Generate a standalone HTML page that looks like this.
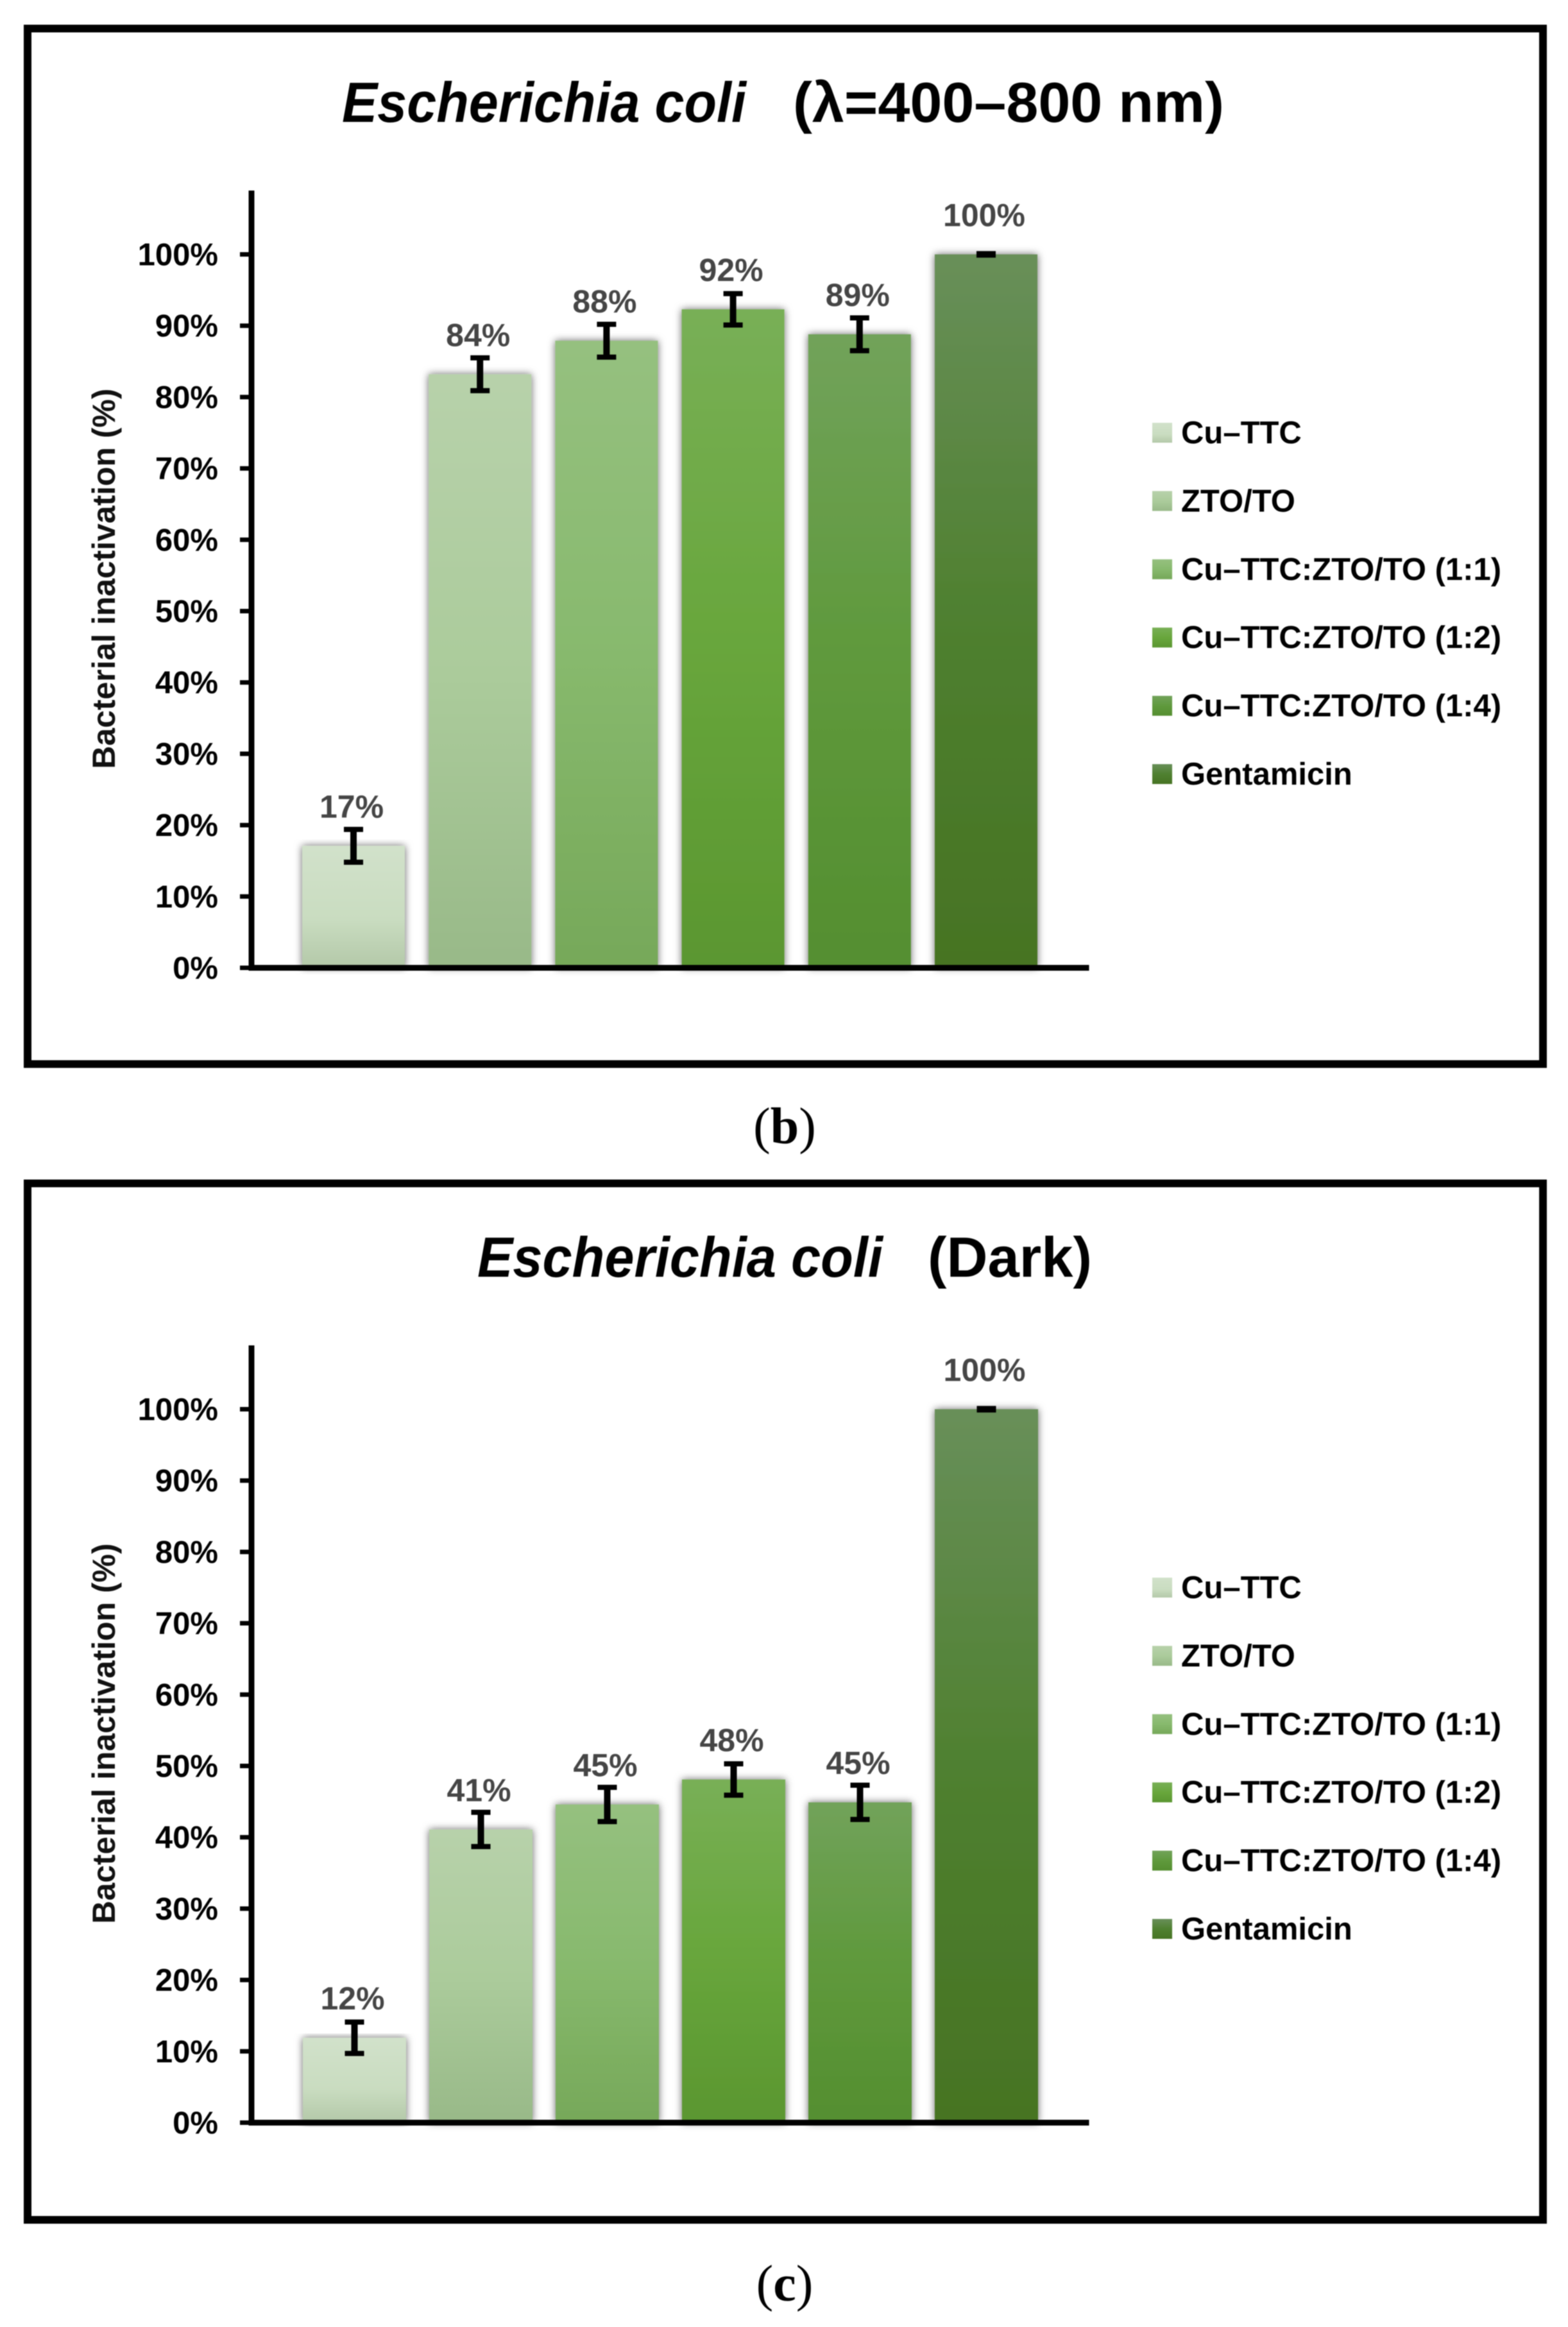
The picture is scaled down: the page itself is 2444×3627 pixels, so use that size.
<!DOCTYPE html>
<html lang="en">
<head>
<meta charset="utf-8">
<title>Escherichia coli bacterial inactivation</title>
<style>
html,body{margin:0;padding:0;background:#fff;}
svg{display:block;filter:blur(0.7px);}
text{font-family:"Liberation Sans",sans-serif;}
</style>
</head>
<body>
<svg id="figure" xmlns="http://www.w3.org/2000/svg" width="2444" height="3627" viewBox="0 0 2444 3627">
  <defs>
    <filter id="bar-shadow" x="-20%" y="-5%" width="140%" height="110%">
      <feDropShadow dx="0" dy="0" stdDeviation="6" flood-color="#000" flood-opacity="0.6"/>
    </filter>
    <linearGradient id="fill-0" x1="0" y1="0" x2="0" y2="1"><stop offset="0" stop-color="#d1e1ca"/><stop offset="0.6" stop-color="#c9dcc0"/><stop offset="1" stop-color="#b3c8a8"/></linearGradient>
    <linearGradient id="fill-1" x1="0" y1="0" x2="0" y2="1"><stop offset="0" stop-color="#b7d1aa"/><stop offset="0.5" stop-color="#abcb9b"/><stop offset="1" stop-color="#98b988"/></linearGradient>
    <linearGradient id="fill-2" x1="0" y1="0" x2="0" y2="1"><stop offset="0" stop-color="#95c07f"/><stop offset="0.5" stop-color="#87b96d"/><stop offset="1" stop-color="#76a859"/></linearGradient>
    <linearGradient id="fill-3" x1="0" y1="0" x2="0" y2="1"><stop offset="0" stop-color="#78af56"/><stop offset="0.5" stop-color="#68a63c"/><stop offset="1" stop-color="#5a9630"/></linearGradient>
    <linearGradient id="fill-4" x1="0" y1="0" x2="0" y2="1"><stop offset="0" stop-color="#71a25a"/><stop offset="0.5" stop-color="#5f993c"/><stop offset="1" stop-color="#548e30"/></linearGradient>
    <linearGradient id="fill-5" x1="0" y1="0" x2="0" y2="1"><stop offset="0" stop-color="#688f59"/><stop offset="0.5" stop-color="#4f8030"/><stop offset="1" stop-color="#467323"/></linearGradient>
  </defs>

  <rect x="43" y="44.5" width="2362" height="1614" fill="#fff" stroke="#000" stroke-width="12"/>
  <text x="533" y="190" font-size="88" font-weight="bold" font-style="italic" textLength="630" lengthAdjust="spacingAndGlyphs">Escherichia coli</text>
  <text x="1236" y="190" font-size="88" font-weight="bold" textLength="672" lengthAdjust="spacingAndGlyphs">(λ=400–800 nm)</text>
  <text x="1223" y="1782" font-size="80" text-anchor="middle" style="font-family:'Liberation Serif',serif">(<tspan font-weight="bold">b</tspan>)</text>
  <g id="panel-b"></g>

  <rect x="43" y="1844.5" width="2362" height="1615.5" fill="#fff" stroke="#000" stroke-width="12"/>
  <text x="744" y="1990" font-size="88" font-weight="bold" font-style="italic" textLength="632" lengthAdjust="spacingAndGlyphs">Escherichia coli</text>
  <text x="1446" y="1990" font-size="88" font-weight="bold" textLength="256" lengthAdjust="spacingAndGlyphs">(Dark)</text>
  <text x="1223" y="3586" font-size="80" text-anchor="middle" style="font-family:'Liberation Serif',serif">(<tspan font-weight="bold">c</tspan>)</text>
  <g id="panel-c"></g>
</svg>

<script>
const categories = ["Cu–TTC", "ZTO/TO", "Cu–TTC:ZTO/TO (1:1)", "Cu–TTC:ZTO/TO (1:2)", "Cu–TTC:ZTO/TO (1:4)", "Gentamicin"];
const tickValues = [0, 10, 20, 30, 40, 50, 60, 70, 80, 90, 100];
const tickLabels = ["0%", "10%", "20%", "30%", "40%", "50%", "60%", "70%", "80%", "90%", "100%"];
const lightValues = [17.1, 83.2, 87.9, 92.3, 88.8, 100];
const lightErrors = [2.3, 2.3, 2.3, 2.2, 2.3, 0.1];
const lightLabels = ["17%", "84%", "88%", "92%", "89%", "100%"];
const darkValues = [11.9, 41.1, 44.6, 48.1, 44.9, 100];
const darkErrors = [2.2, 2.4, 2.4, 2.2, 2.4, 0.1];
const darkLabels = ["12%", "41%", "45%", "48%", "45%", "100%"];

const SVG_NS = "http://www.w3.org/2000/svg";

function make(parent, tag, props, content) {
  const el = document.createElementNS(SVG_NS, tag);
  for (const key in props) el.setAttribute(key, props[key]);
  if (content !== undefined) el.textContent = content;
  parent.appendChild(el);
  return el;
}

function drawPanel(root, prefix, offsetY, firstCenter, step, barWidth, values, errors, labels) {
  const zeroY = 1508.5 + offsetY;
  const pxPerUnit = 11.12;
  const yScale = v => zeroY - v * pxPerUnit;
  const xScale = i => firstCenter + step * i;

  // bars
  categories.forEach((name, i) => {
    const top = yScale(values[i]);
    const bar = make(root, "rect", {
      x: xScale(i) - barWidth / 2, y: top, width: barWidth, height: zeroY - top,
      fill: "url(#fill-" + i + ")", filter: "url(#bar-shadow)"
    });
    
    
  });

  // error bars
  categories.forEach((name, i) => {
    const hi = yScale(values[i] + errors[i]);
    const lo = yScale(values[i] - errors[i]);
    const cx = xScale(i);
    const group = make(root, "g", {fill: "#000"});
    
    
    make(group, "rect", {x: cx - 5, y: hi, width: 10, height: lo - hi});
    make(group, "rect", {x: cx - 15, y: hi - 4, width: 30, height: 8});
    make(group, "rect", {x: cx - 15, y: lo - 4, width: 30, height: 8});
  });

  // value labels
  labels.forEach((text, i) => {
    const label = make(root, "text", {
      x: xScale(i) - 3, y: yScale(values[i]) - 44,
      "font-size": 50, "font-weight": "bold", fill: "#454545", "text-anchor": "middle"
    }, text);
    
    
  });

  // axes
  const yAxis = make(root, "rect", {x: 387.5, y: 297 + offsetY, width: 9, height: zeroY + 4.5 - (297 + offsetY), fill: "#000"});
  
  
  const xAxis = make(root, "rect", {x: 387.5, y: zeroY - 4.5, width: 1310, height: 9, fill: "#000"});
  
  

  tickValues.forEach((v, i) => {
    const y = yScale(v);
    const tick = make(root, "rect", {x: 374, y: y - 3.5, width: 14, height: 7, fill: "#000"});
    
    
    const tickLabel = make(root, "text", {
      x: 340, y: y + 17, "font-size": 49, "font-weight": "bold", fill: "#000", "text-anchor": "end"
    }, tickLabels[i]);
    
    
  });

  const yTitle = make(root, "text", {
    transform: "translate(179," + (902 + offsetY) + ") rotate(-90)",
    "font-size": 50, "font-weight": "bold", fill: "#111", "text-anchor": "middle",
    textLength: 593, lengthAdjust: "spacingAndGlyphs"
  }, "Bacterial inactivation (%)");
  
  

  // legend
  categories.forEach((name, i) => {
    const top = 659 + offsetY + 106.4 * i;
    const swatch = make(root, "rect", {x: 1796, y: top, width: 31, height: 31, fill: "url(#fill-" + i + ")"});
    
    
    const entry = make(root, "text", {x: 1841, y: top + 32, "font-size": 49, "font-weight": "bold", fill: "#000"}, name);
    
    
  });
}

drawPanel(document.getElementById("panel-b"), "panel-b", 0, 551, 197.2, 160, lightValues, lightErrors, lightLabels);
drawPanel(document.getElementById("panel-c"), "panel-c", 1800, 552.5, 197, 161, darkValues, darkErrors, darkLabels);
</script>
</body>
</html>
